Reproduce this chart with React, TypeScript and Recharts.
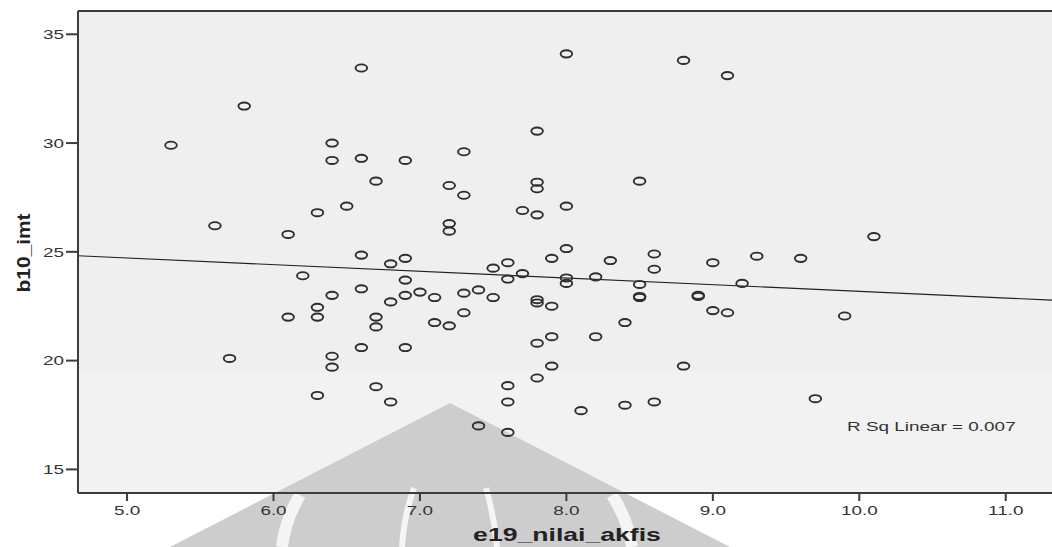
import React from "react";
import {
    ScatterChart,
    Scatter,
    XAxis,
    YAxis,
    ReferenceLine,
} from "recharts";

// e19_nilai_akfis (x) and b10_imt (y)
const nilaiAkfis = [
    5.3, 5.6, 5.7, 5.8, 6.1, 6.1, 6.2, 6.3, 6.3, 6.3,
    6.3, 6.4, 6.4, 6.4, 6.4, 6.4, 6.5, 6.6, 6.6, 6.6,
    6.6, 6.6, 6.7, 6.7, 6.7, 6.7, 6.8, 6.8, 6.8, 6.9,
    6.9, 6.9, 6.9, 6.9, 7.0, 7.1, 7.1, 7.2, 7.2, 7.2,
    7.2, 7.3, 7.3, 7.3, 7.3, 7.4, 7.4, 7.5, 7.5, 7.6,
    7.6, 7.6, 7.6, 7.6, 7.7, 7.7, 7.8, 7.8, 7.8, 7.8,
    7.8, 7.8, 7.8, 7.8, 7.9, 7.9, 7.9, 7.9, 8.0, 8.0,
    8.0, 8.0, 8.0, 8.1, 8.2, 8.2, 8.3, 8.4, 8.4, 8.5,
    8.5, 8.5, 8.5, 8.6, 8.6, 8.6, 8.8, 8.8, 8.9, 8.9,
    9.0, 9.0, 9.1, 9.1, 9.2, 9.3, 9.6, 9.7, 9.9, 10.1,
];

const imt = [
    29.9, 26.2, 20.1, 31.7, 25.8, 22.0, 23.9, 26.8, 22.45, 22.0,
    18.4, 30.0, 29.2, 23.0, 20.2, 19.7, 27.1, 33.45, 29.3, 24.85,
    23.3, 20.6, 28.25, 22.0, 21.55, 18.8, 24.45, 22.7, 18.1, 29.2,
    24.7, 23.7, 23.0, 20.6, 23.15, 22.9, 21.75, 28.05, 26.3, 25.95,
    21.6, 29.6, 27.6, 23.1, 22.2, 23.25, 17.0, 24.25, 22.9, 24.5,
    23.75, 18.85, 18.1, 16.7, 26.9, 24.0, 30.55, 28.2, 27.9, 26.7,
    22.8, 22.65, 20.8, 19.2, 24.7, 22.5, 21.1, 19.75, 34.1, 27.1,
    25.15, 23.8, 23.55, 17.7, 23.85, 21.1, 24.6, 21.75, 17.95, 28.25,
    23.5, 22.95, 22.9, 24.9, 24.2, 18.1, 33.8, 19.75, 23.0, 22.95,
    24.5, 22.3, 33.1, 22.2, 23.55, 24.8, 24.7, 18.25, 22.05, 25.7,
];

// fit line end points, read at the plot edges
const fitLine = [
    { x: 4.665, y: 24.82 },
    { x: 11.316, y: 22.78 },
];

const xTicks = [5, 6, 7, 8, 9, 10, 11];
const yTicks = [15, 20, 25, 30, 35];
const xDomain = [4.665, 11.316];
const yDomain = [13.915, 36.07];

const points = nilaiAkfis.map((x, i) => ({ x, y: imt[i] }));

const FONT = "'Liberation Sans', Arial, sans-serif";
const AXIS = "#3c3c3c";
const TEXT = "#333";

const Ring = (props: any) => {
    const { cx, cy } = props;
    if (cx == null || cy == null) return null;
    return (
        <ellipse
            cx={cx}
            cy={cy}
            rx={5.8}
            ry={3.6}
            fill="none"
            stroke="#2e2e2e"
            strokeWidth={1.9}
        />
    );
};

const XTick = (props: any) => {
    const { x, y, payload } = props;
    return (
        <g transform={`translate(${x},${y})`}>
            <text
                transform="scale(1.4,1)"
                textAnchor="middle"
                dy="0.71em"
                fontSize={13.5}
                fontFamily={FONT}
                fill={TEXT}
            >
                {Number(payload.value).toFixed(1)}
            </text>
        </g>
    );
};

const YTick = (props: any) => {
    const { x, y, payload } = props;
    return (
        <g transform={`translate(${x},${y})`}>
            <text
                transform="scale(1.4,1)"
                textAnchor="end"
                dy="0.355em"
                fontSize={13.5}
                fontFamily={FONT}
                fill={TEXT}
            >
                {payload.value}
            </text>
        </g>
    );
};

// plot backdrop plus the faint scanned watermark behind the chart
const Backdrop = () => (
    <svg
        width={1052}
        height={547}
        style={{ position: "absolute", left: 0, top: 0 }}
    >
        <rect x={78} y={11} width={974} height={360} fill="#efefef" />
        <rect x={78} y={371} width={974} height={122} fill="#f2f2f2" />
        <polygon points="450,403 730,547 170,547" fill="#cdcdcd" />
        <g stroke="#f5f5f5" fill="none">
            <path d="M300,495 Q285,520 282,547" strokeWidth={12} />
            <path d="M414,488 Q404,515 402,547" strokeWidth={6} />
            <path d="M486,488 Q494,515 497,547" strokeWidth={6} />
            <path d="M612,495 Q628,520 632,547" strokeWidth={12} />
        </g>
    </svg>
);

export default function App() {
    return (
        <div
            style={{
                position: "absolute",
                left: 0,
                top: 0,
                width: 1052,
                height: 547,
                background: "#fff",
                overflow: "hidden",
            }}
        >
            <Backdrop />
            <div style={{ position: "absolute", left: 0, top: 0 }}>
                <ScatterChart
                    width={1052}
                    height={547}
                    margin={{ top: 11, right: 0, bottom: 0, left: 0 }}
                >
                    <XAxis
                        type="number"
                        dataKey="x"
                        domain={xDomain}
                        ticks={xTicks}
                        allowDataOverflow
                        height={54}
                        tickSize={8}
                        tickMargin={4}
                        axisLine={{ stroke: AXIS, strokeWidth: 2 }}
                        tickLine={{ stroke: AXIS, strokeWidth: 2 }}
                        tick={<XTick />}
                    />
                    <YAxis
                        type="number"
                        dataKey="y"
                        domain={yDomain}
                        ticks={yTicks}
                        allowDataOverflow
                        width={78}
                        tickSize={12}
                        tickMargin={2}
                        axisLine={{ stroke: AXIS, strokeWidth: 2 }}
                        tickLine={{ stroke: AXIS, strokeWidth: 2 }}
                        tick={<YTick />}
                    />
                    <ReferenceLine
                        y={yDomain[1]}
                        stroke={AXIS}
                        strokeWidth={2}
                    />
                    <ReferenceLine
                        segment={fitLine}
                        stroke="#222"
                        strokeWidth={1.2}
                    />
                    <Scatter
                        data={points}
                        shape={<Ring />}
                        isAnimationActive={false}
                    />
                </ScatterChart>
            </div>

            <div
                style={{
                    position: "absolute",
                    left: 567,
                    top: 524,
                    transform: "translateX(-50%) scaleX(1.4)",
                    fontFamily: FONT,
                    fontWeight: "bold",
                    fontSize: 19,
                    color: "#222",
                    whiteSpace: "nowrap",
                    lineHeight: "22px",
                }}
            >
                e19_nilai_akfis
            </div>

            <div
                style={{
                    position: "absolute",
                    left: 24,
                    top: 253,
                    transform: "translate(-50%,-50%) rotate(-90deg) scaleX(1.1)",
                    fontFamily: FONT,
                    fontWeight: "bold",
                    fontSize: 19,
                    color: "#222",
                    whiteSpace: "nowrap",
                    lineHeight: "22px",
                }}
            >
                b10_imt
            </div>

            <div
                style={{
                    position: "absolute",
                    left: 847,
                    top: 418,
                    transform: "scaleX(1.4)",
                    transformOrigin: "0 0",
                    fontFamily: FONT,
                    fontSize: 13.5,
                    color: TEXT,
                    whiteSpace: "nowrap",
                    lineHeight: "17px",
                }}
            >
                R Sq Linear = 0.007
            </div>
        </div>
    );
}
